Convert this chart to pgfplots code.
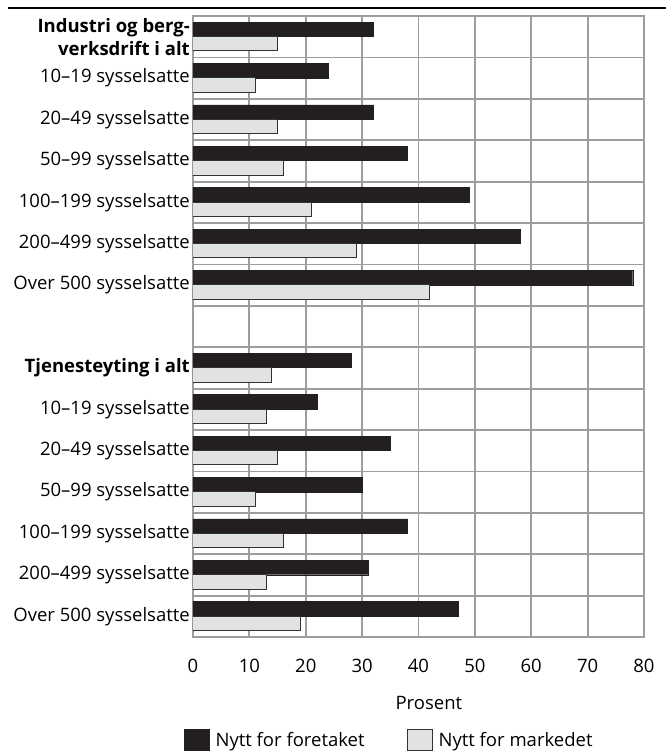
\documentclass[border=0pt]{standalone}
\usepackage{pgfplots}
\pgfplotsset{compat=1.18}
\usepackage{pgfplotstable}
\usepackage{fontspec}
\setmainfont{Open Sans}

\definecolor{barDark}{RGB}{35,31,32}
\definecolor{barLight}{RGB}{225,226,228}
\definecolor{barEdge}{RGB}{50,50,50}
\definecolor{gridGray}{RGB}{155,157,160}

% rows top to bottom, row 7 is the empty gap
\pgfplotstableread{
pos foretak marked
0  32 15
1  24 11
2  32 15
3  38 16
4  49 21
5  58 29
6  78 42
8  28 14
9  22 13
10 35 15
11 30 11
12 38 16
13 31 13
14 47 19
}\innov

\begin{document}
\begin{tikzpicture}
\useasboundingbox (0,0) rectangle (666pt,753pt);
\draw[line width=2pt] (8pt,745pt) -- (666pt,745pt);
\begin{axis}[
    at={(193pt,116pt)}, anchor=south west,
    scale only axis, width=451pt, height=621pt,
    xbar, bar width=0.35,
    y dir=reverse,
    xmin=0, xmax=80, ymin=-0.5, ymax=14.5,
    xtick={0,10,...,80},
    ytick={0,1,2,3,4,5,6,8,9,10,11,12,13,14},
    yticklabels={
        {\textbf{Industri og berg-}\\\textbf{verksdrift i alt}},
        10–19 sysselsatte, 20–49 sysselsatte, 50–99 sysselsatte,
        100–199 sysselsatte, 200–499 sysselsatte, Over 500 sysselsatte,
        \textbf{Tjenesteyting i alt},
        10–19 sysselsatte, 20–49 sysselsatte, 50–99 sysselsatte,
        100–199 sysselsatte, 200–499 sysselsatte, Over 500 sysselsatte},
    minor ytick={-0.5,0.5,...,14.5},
    xmajorgrids=true, yminorgrids=true,
    major tick length=0pt, minor tick length=0pt,
    tick style={draw=none},
    axis line style={gridGray, line width=2pt},
    grid style={gridGray, line width=1.8pt},
    minor grid style={gridGray, line width=1.8pt},
    font=\fontsize{18.5}{23}\selectfont,
    /pgf/number format/assume math mode=true,
    yticklabel style={align=right, inner sep=3pt},
    xticklabel style={yshift=-19pt},
    xlabel={Prosent},
    xlabel style={at={(axis description cs:0.523,0)}, anchor=center, yshift=-66pt},
    legend columns=2,
    legend style={at={(axis description cs:-0.02,-0.166)}, anchor=west,
        draw=none, fill=none, inner sep=0pt,
        /tikz/every odd column/.append style={column sep=4pt},
        /tikz/every even column/.append style={column sep=40pt}},
    legend image code/.code={\draw[#1] (0pt,-10.5pt) rectangle (25pt,10.5pt);},
]
\addplot[fill=barDark, draw=barDark, bar shift=-0.18]
    table[x=foretak, y=pos]{\innov};
\addlegendentry{Nytt for foretaket}
\addplot[fill=barLight, draw=barEdge, line width=1pt, bar shift=0.17]
    table[x=marked, y=pos]{\innov};
\addlegendentry{Nytt for markedet}
\end{axis}
\end{tikzpicture}
\end{document}
